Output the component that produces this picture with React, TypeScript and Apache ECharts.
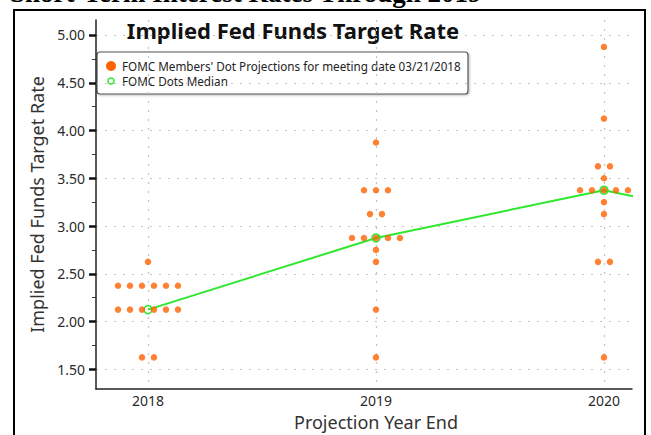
import React, { useEffect, useRef } from "react";
import * as echarts from "echarts";

// ---- data ----
const years = [2018, 2019, 2020];
const dots2018 = [2.625, 2.375, 2.375, 2.375, 2.375, 2.375, 2.375, 2.125, 2.125, 2.125, 2.125, 2.125, 2.125, 1.625, 1.625];
const dots2019 = [3.875, 3.375, 3.375, 3.375, 3.125, 3.125, 2.875, 2.875, 2.875, 2.875, 2.875, 2.75, 2.625, 2.125, 1.625];
const dots2020 = [4.875, 4.125, 3.625, 3.625, 3.5, 3.375, 3.375, 3.375, 3.375, 3.375, 3.25, 3.125, 2.625, 2.625, 1.625];
const medianYears = [2018, 2019, 2020, 2021];
const medianValues = [2.125, 2.875, 3.375, 2.875];
const yTickValues = [1.5, 2.0, 2.5, 3.0, 3.5, 4.0, 4.5, 5.0];
const yMinorValues = [1.75, 2.25, 2.75, 3.25, 3.75, 4.25, 4.75];
const xTickValues = [2018, 2019, 2020];

const DOT_STEP = 0.0526; // horizontal spread between dots sharing a value (years)

function spread(year: number, values: number[]): number[][] {
  const groups = new Map<number, number>();
  values.forEach((v) => groups.set(v, (groups.get(v) || 0) + 1));
  const out: number[][] = [];
  groups.forEach((n, v) => {
    for (let i = 0; i < n; i++) out.push([year + (i - (n - 1) / 2) * DOT_STEP, v]);
  });
  return out;
}

const ORANGE = "#ff6200";
const GREEN = "#2ee82e";
const FONT = "Noto Sans";

export default function App() {
  const ref = useRef<HTMLDivElement>(null);
  useEffect(() => {
    const chart = echarts.init(ref.current!, null, { renderer: "svg" });
    const allDots = [
      ...spread(years[0], dots2018),
      ...spread(years[1], dots2019),
      ...spread(years[2], dots2020),
    ];
    const gridLine = { show: true, lineStyle: { color: "#c4c4c4", type: [2, 7] as any, width: 1.2 } };
    chart.setOption({
      animation: false,
      backgroundColor: "#ffffff",
      grid: { left: 96, right: 19, top: 20, bottom: 46 },
      xAxis: {
        type: "value",
        min: 2017.772,
        max: 2020.123,
        axisLine: { show: true, lineStyle: { color: "#222", width: 1.5 } },
        axisTick: { show: false, customValues: xTickValues },
        axisLabel: {
          customValues: xTickValues,
          margin: 4,
          fontSize: 14,
          color: "#2a2a2a",
          fontFamily: FONT,
          formatter: (v: number) => String(Math.round(v)),
        },
        splitLine: gridLine,
      },
      yAxis: [
        {
          type: "value",
          min: 1.294,
          max: 5.157,
          position: "left",
          name: "Implied Fed Funds Target Rate",
          nameLocation: "middle",
          nameGap: 46,
          nameTextStyle: { fontSize: 18, color: "#333", fontFamily: FONT },
          axisLine: { show: true, lineStyle: { color: "#222", width: 1.5 } },
          axisTick: { show: true, customValues: yTickValues, length: 7, lineStyle: { color: "#111", width: 2.5 } },
          axisLabel: {
            customValues: yTickValues,
            margin: 11,
            fontSize: 14,
            color: "#2a2a2a",
            fontFamily: FONT,
            formatter: (v: number) => v.toFixed(2),
          },
          splitLine: gridLine,
        },
        {
          type: "value",
          min: 1.294,
          max: 5.157,
          position: "left",
          axisLine: { show: false },
          axisTick: { show: true, customValues: yMinorValues, length: 4, lineStyle: { color: "#333", width: 1 } },
          axisLabel: { show: false },
          splitLine: { show: false },
        },
      ],
      series: [
        {
          type: "line",
          name: "FOMC Dots Median",
          data: medianYears.map((y, i) => [y, medianValues[i]]),
          symbol: "circle",
          symbolSize: 8,
          showAllSymbol: true,
          itemStyle: { color: "rgba(255,255,255,0)", borderColor: GREEN, borderWidth: 1.5 },
          lineStyle: { color: GREEN, width: 2 },
          z: 2,
        },
        {
          type: "scatter",
          name: "FOMC Members' Dot Projections for meeting date 03/21/2018",
          data: allDots,
          symbol: "circle",
          symbolSize: 6.5,
          itemStyle: { color: ORANGE },
          z: 3,
        },
      ],
      graphic: [
        {
          type: "text",
          x: 10,
          y: -7,
          style: {
            text: "Short-Term Interest Rates Through 2019",
            font: "bold 27px 'Liberation Serif'",
            fill: "#000",
            verticalAlign: "middle",
          },
        },
        {
          type: "rect",
          shape: { x: 14, y: 10, width: 631, height: 440 },
          style: { fill: "none", stroke: "#000", lineWidth: 2 },
        },
        {
          type: "text",
          x: 293,
          y: 30,
          style: {
            text: "Implied Fed Funds Target Rate",
            font: `bold 22px '${FONT}'`,
            fill: "#111",
            align: "center",
            verticalAlign: "middle",
          },
        },
        {
          type: "rect",
          shape: { x: 97, y: 52, width: 371, height: 42, r: 3 },
          style: { fill: "#fff", stroke: "#555", lineWidth: 1.2, shadowBlur: 2, shadowColor: "rgba(0,0,0,0.25)", shadowOffsetX: 1, shadowOffsetY: 1 },
        },
        {
          type: "circle",
          shape: { cx: 111, cy: 66, r: 5 },
          style: { fill: ORANGE },
        },
        {
          type: "text",
          x: 122,
          y: 66,
          style: {
            text: "FOMC Members' Dot Projections for meeting date 03/21/2018",
            font: `11.7px '${FONT}'`,
            fill: "#222",
            verticalAlign: "middle",
          },
        },
        {
          type: "circle",
          shape: { cx: 111, cy: 81, r: 3 },
          style: { fill: "#fff", stroke: GREEN, lineWidth: 1.5 },
        },
        {
          type: "text",
          x: 122,
          y: 81,
          style: {
            text: "FOMC Dots Median",
            font: `11.7px '${FONT}'`,
            fill: "#222",
            verticalAlign: "middle",
          },
        },
        {
          type: "text",
          x: 376,
          y: 422,
          style: {
            text: "Projection Year End",
            font: `18px '${FONT}'`,
            fill: "#333",
            align: "center",
            verticalAlign: "middle",
          },
        },
      ],
    });
    return () => chart.dispose();
  }, []);
  return <div ref={ref} style={{ position: "absolute", left: 0, top: 0, width: 651, height: 435 }} />;
}
